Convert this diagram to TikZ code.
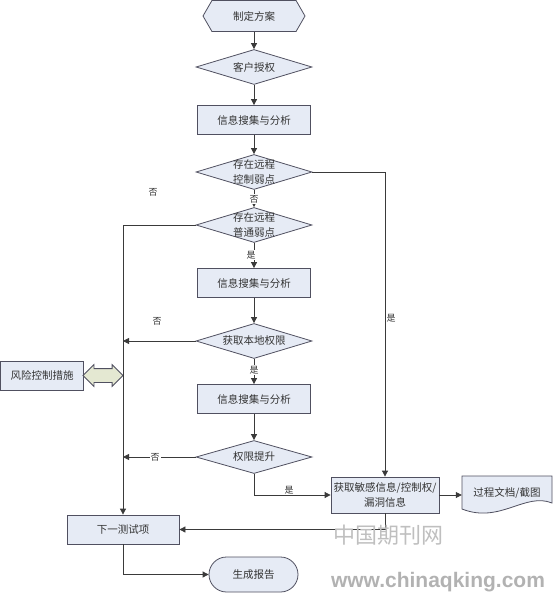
\documentclass[tikz,border=0pt]{standalone}
\usepackage{fontspec}
\setmainfont{Noto Sans CJK SC}
\newfontfamily\wmfont{Liberation Sans}
\usetikzlibrary{shapes.geometric,shapes.symbols,shapes.arrows,shapes.misc,arrows.meta,backgrounds}
\definecolor{fillc}{HTML}{E6EBF5}
\definecolor{linec}{HTML}{3A3A3A}
\definecolor{edgec}{HTML}{505060}
\definecolor{arrowfill}{HTML}{E4E8D2}
\definecolor{txt}{HTML}{333333}
\begin{document}
\begin{tikzpicture}[x=1pt,y=-1pt,
  font=\fontsize{10.5}{15}\selectfont,
  base/.style={draw=edgec, fill=fillc, line width=0.8pt, text=txt, inner sep=0pt, align=center},
  procbox/.style={base, rectangle, minimum width=113pt, minimum height=29pt},
  decision/.style={base, diamond, aspect=3.3, minimum width=116pt, minimum height=35pt},
  dtext/.style={inner sep=0pt, align=center, text=txt},
  lbl/.style={inner sep=1pt, font=\fontsize{9}{10}\selectfont, text=txt},
  conn/.style={draw=linec, line width=0.8pt, -{Triangle[length=6pt,width=6pt]}}
]
\useasboundingbox (0,0) rectangle (554,593);

% nodes
\node[base, signal, signal to=west and east, signal pointer angle=120,
      minimum width=102pt, minimum height=31pt] (plan) at (254,16) {制定方案};
\node[decision] (auth) at (254,67) {客户授权};
\node[procbox] (box1) at (254,120) {信息搜集与分析};
\node[decision] (d1) at (254,172) {};
\node[dtext] (d1t) at (d1) {存在远程\\控制弱点};
\node[decision] (d2) at (254,225) {};
\node[dtext] (d2t) at (d2) {存在远程\\普通弱点};
\node[procbox] (box2) at (254,283) {信息搜集与分析};
\node[decision] (d3) at (254,341) {获取本地权限};
\node[procbox] (box3) at (254,399) {信息搜集与分析};
\node[decision, minimum height=33pt] (d4) at (254,457) {权限提升};
\node[base, rectangle, minimum width=108pt, minimum height=36pt] (get) at (385,495) {获取敏感信息/控制权/\\漏洞信息};
\node[inner sep=0pt, minimum width=90pt, minimum height=34pt, text=txt] (doc) at (507,493) {过程文档/截图};
\begin{scope}[on background layer]
\draw[base] (462,476) -- (552,476) -- (552,503) .. controls (525,492) and (500,524) .. (462,509) -- cycle;
\end{scope}
\node[procbox, minimum width=112pt] (next) at (123,529.5) {下一测试项};
\node[base, rounded rectangle, minimum width=89pt, minimum height=35pt] (report) at (253.5,574.5) {生成报告};
\node[base, rectangle, minimum width=83pt, minimum height=29pt] (risk) at (42,375.5) {风险控制措施};
\node[draw=edgec, fill=arrowfill, line width=0.8pt, double arrow, double arrow head extend=4pt,
      minimum height=40pt, inner xsep=0pt, inner ysep=6.5pt, text height=0pt, text depth=0pt] (dbl) at (103,375.5) {};

% connectors
\draw[conn] (plan.south) -- (auth.north);
\draw[conn] (auth.south) -- (box1.north);
\draw[conn] (box1.south) -- (d1.north);
\draw[conn] (d1.south) -- (d2.north);
\draw[conn] (d2.south) -- (box2.north);
\draw[conn] (d2.west) -- (d2.west -| next.north) -- (next.north);
\draw[conn] (box2.south) -- (d3.north);
\draw[conn] (d3.west) -- (d3.west -| next.north);
\draw[conn] (d3.south) -- (box3.north);
\draw[conn] (box3.south) -- (d4.north);
\draw[conn] (d4.west) -- (d4.west -| next.north);
\draw[conn] (d4.south) |- (get.west);
\draw[conn] (d1.east) -| (get.north);
\draw[conn] (get.east) -- (get.east -| doc.west);
\draw[conn] (get.south) |- (next.east);
\draw[conn] (next.south) |- (report.west);

% labels
\node[lbl, fill=white] (l1) at (254,199) {否};
\node[lbl, fill=white] (l2) at (251,255) {是};
\node[lbl] (l3) at (153,192) {否};
\node[lbl] (l4) at (157,321) {否};
\node[lbl, fill=white] (l5) at (254,370) {是};
\node[lbl, fill=white] (l6) at (155,457) {否};
\node[lbl] (l7) at (289,490) {是};
\node[lbl] (l8) at (391,318) {是};

% watermark
\node[text=gray!50, inner sep=0pt, font=\fontsize{22}{22}\selectfont] (wm1) at (388,535) {中国期刊网};
\node[text=gray!60, inner sep=0pt, font=\wmfont\bfseries\fontsize{21}{21}\selectfont] (wm2) at (438,582) {www.chinaqking.com};
\end{tikzpicture}
\end{document}
